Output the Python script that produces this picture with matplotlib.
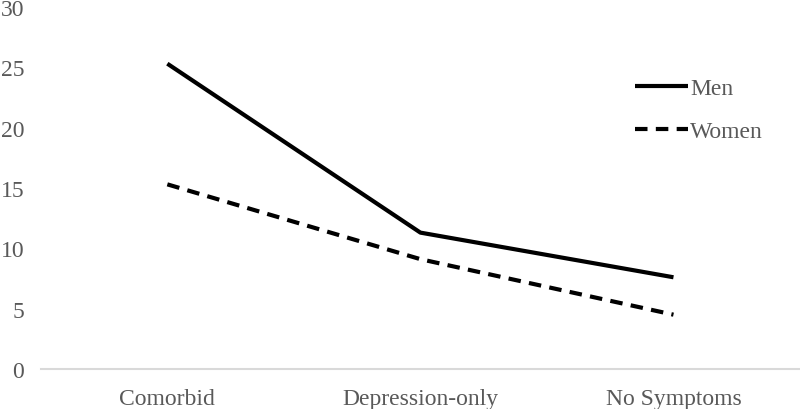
import matplotlib
matplotlib.use("Agg")
import matplotlib.pyplot as plt

categories = ["Comorbid", "Depression-only", "No Symptoms"]
men = [25.3, 11.3, 7.6]
women = [15.3, 9.1, 4.5]
yticks = [0, 5, 10, 15, 20, 25, 30]

plt.rcParams['font.family'] = ['Liberation Serif', 'DejaVu Serif']
fig = plt.figure(figsize=(8, 4.1), dpi=100)
ax = fig.add_axes([0.051, 0.0976, 0.949, 0.883])
x = list(range(len(categories)))
ax.plot(x, men, color='black', lw=3, solid_capstyle='butt', label='Men')
ax.plot(x, women, color='black', lw=3, dashes=(3, 2), dash_capstyle='butt', label='Women')
ax.set_xlim(-0.5, 2.5)
ax.set_ylim(0, 30)
ax.set_yticks(yticks)
ax.set_xticks(x)
ax.set_xticklabels(categories)
for s in ['top', 'right', 'left']:
    ax.spines[s].set_visible(False)
ax.spines['bottom'].set_color('#d9d9d9')
ax.spines['bottom'].set_linewidth(1.5)
ax.tick_params(axis='both', length=0, labelsize=17, colors='#595959')
ax.tick_params(axis='x', pad=14)
ax.tick_params(axis='y', pad=12)
leg = ax.legend(loc='upper left', bbox_to_anchor=(0.77, 0.83), frameon=False, fontsize=17,
                handlelength=2.25, handletextpad=0.1, labelspacing=0.9, borderaxespad=0)
for t in leg.get_texts():
    t.set_color('#595959')
fig.savefig("out.png", dpi=100)
